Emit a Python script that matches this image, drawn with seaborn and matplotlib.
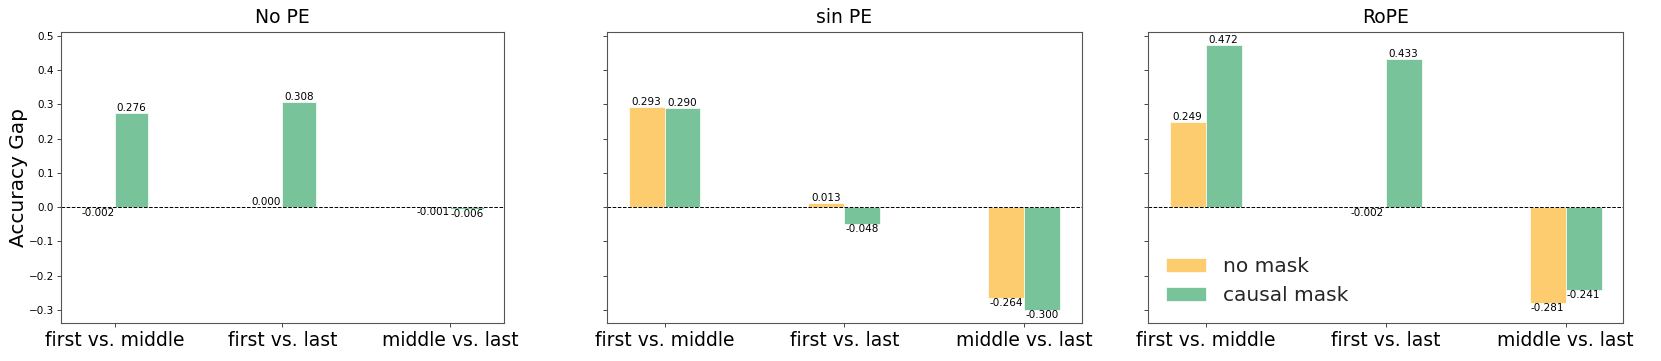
import seaborn as sns
import pandas as pd
import matplotlib.pyplot as plt

sns.set_style("ticks")

pe_types = ["No PE", "sin PE", "RoPE"]
pairs = ["first vs. middle", "first vs. last", "middle vs. last"]
masks = ["no mask", "causal mask"]

# accuracy gaps, one list per PE type, order = pairs
no_mask = {
  "No PE": [-0.002, 0.000, -0.001],
  "sin PE": [0.293, 0.013, -0.264],
  "RoPE": [0.249, -0.002, -0.281],
}
causal_mask = {
  "No PE": [0.276, 0.308, -0.006],
  "sin PE": [0.290, -0.048, -0.300],
  "RoPE": [0.472, 0.433, -0.241],
}

colors = {"no mask": "#fdcc6e", "causal mask": "#78c39a"}

rows = []
for pe in pe_types:
  for i, pair in enumerate(pairs):
    rows.append({"pe": pe, "pair": pair, "mask": "no mask", "value": no_mask[pe][i]})
    rows.append({"pe": pe, "pair": pair, "mask": "causal mask", "value": causal_mask[pe][i]})
df = pd.DataFrame(rows)

fig = plt.figure(figsize=(16.61, 3.61), dpi=100)
positions = [
  [0.0367, 0.1044, 0.2667, 0.808],
  [0.3654, 0.1044, 0.2860, 0.808],
  [0.6912, 0.1044, 0.2860, 0.808],
]

axes = []
for k, pe in enumerate(pe_types):
  ax = fig.add_axes(positions[k], sharey=axes[0] if axes else None)
  axes.append(ax)
  sub = df[df["pe"] == pe]
  sns.barplot(
    data=sub, x="pair", y="value", hue="mask",
    order=pairs, hue_order=masks, palette=colors, saturation=1,
    width=0.4, edgecolor="white", linewidth=0.5, ax=ax,
  )
  for c in ax.containers:
    ax.bar_label(c, fmt="%.3f", fontsize=7.5, color="black")
  ax.axhline(0, color="black", linestyle="--", linewidth=0.7)
  ax.set_title(pe, fontsize=13.5, color="black")
  ax.set_xlabel("")
  ax.set_ylabel("")
  ax.set_xlim(-0.32, 2.32)
  ax.tick_params(axis="x", labelsize=13.5, labelcolor="black", length=2.6, pad=2.6, width=0.6)
  ax.tick_params(axis="y", labelsize=7.5, labelcolor="black", length=2.6, pad=2.6, width=0.6)
  for s in ax.spines.values():
    s.set_color("#555555")
    s.set_linewidth(0.8)
  if k > 0:
    ax.tick_params(axis="y", labelleft=False)
  if k < 2:
    ax.get_legend().remove()

axes[0].set_ylim(-0.339, 0.512)
axes[0].set_yticks([-0.3, -0.2, -0.1, 0.0, 0.1, 0.2, 0.3, 0.4, 0.5])
axes[0].set_ylabel("Accuracy Gap", fontsize=14.5, color="black")
axes[0].yaxis.set_label_coords(-0.074, 0.5)
axes[2].legend(loc="lower left", frameon=False, fontsize=14.5)

fig.savefig("out.png", dpi=100)
